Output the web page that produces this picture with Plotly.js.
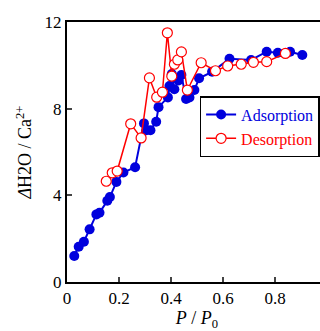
<!DOCTYPE html>
<html><head><meta charset="utf-8">
<script src="https://cdn.plot.ly/plotly-3.0.1.min.js"></script>
<style>html,body{margin:0;padding:0;overflow:hidden;background:#fff;}#chart{width:340px;height:331px;}</style>
</head><body><div id="chart"></div>
<script>
const adsX = [0.028,0.045,0.065,0.087,0.113,0.125,0.155,0.165,0.19,0.217,0.262,0.296,0.305,0.321,0.343,0.352,0.388,0.394,0.403,0.413,0.429,0.44,0.458,0.471,0.49,0.508,0.558,0.625,0.708,0.768,0.811,0.858,0.905];
const adsY = [1.2,1.63,1.86,2.43,3.12,3.2,3.75,3.92,4.62,5.05,5.3,7.32,7.0,7.0,7.4,8.07,8.52,9.05,9.6,8.9,9.3,9.55,8.45,8.52,8.86,9.4,9.7,10.3,10.25,10.63,10.58,10.63,10.48];
const desX = [0.151,0.174,0.193,0.245,0.285,0.317,0.345,0.367,0.386,0.403,0.413,0.426,0.44,0.463,0.516,0.571,0.618,0.67,0.717,0.768,0.84];
const desY = [4.65,5.04,5.12,7.3,6.65,9.42,8.53,8.76,11.5,9.5,10.05,10.25,10.62,8.86,10.12,9.75,9.97,10.05,10.14,10.17,10.55];
const xTicks = [0,0.2,0.4,0.6,0.8];
const xTickText = ['0','0.2','0.4','0.6','0.8'];
const yTicks = [0,4,8,12];

const font = 'Liberation Serif, Times New Roman, serif';
const traces = [
  {x: adsX, y: adsY, name: '<span style="color:#0000dd">Adsorption</span>', mode: 'lines+markers', type: 'scatter',
   line: {color: '#0000dd', width: 2}, marker: {color: '#0000dd', size: 10, symbol: 'circle'}},
  {x: desX, y: desY, name: '<span style="color:#ff0000">Desorption</span>', mode: 'lines+markers', type: 'scatter',
   line: {color: '#ff0000', width: 1.5}, marker: {color: '#ffffff', size: 10, symbol: 'circle', line: {color: '#ff0000', width: 1.2}}}
];
const layout = {
  width: 340, height: 331,
  margin: {l: 67, r: 13, t: 22, b: 49},
  paper_bgcolor: '#fff', plot_bgcolor: '#fff',
  font: {family: font, size: 17, color: '#000'},
  showlegend: true,
  legend: {x: 0.51, y: 0.715, xanchor: 'left', yanchor: 'top', bordercolor: '#000', borderwidth: 1.5,
           bgcolor: '#fff', font: {family: font, size: 16}, itemwidth: 30, tracegroupgap: 2},
  xaxis: {range: [0, 1.0], tickvals: xTicks, ticktext: xTickText, ticks: 'inside', ticklen: 5, tickwidth: 2,
          showline: true, linewidth: 2, linecolor: '#000', mirror: true, showgrid: false, zeroline: false,
          tickfont: {family: font, size: 17},
          title: {text: '<i>P</i> / <i>P</i><sub>0</sub>', font: {family: font, size: 18}, standoff: 6}},
  yaxis: {range: [0, 12], tickvals: yTicks, ticks: 'inside', ticklen: 5, tickwidth: 2,
          showline: true, linewidth: 2, linecolor: '#000', mirror: true, showgrid: false, zeroline: false,
          tickfont: {family: font, size: 17},
          title: {text: '<i>Δ</i>H2O / Ca<sup>2+</sup>', font: {family: font, size: 18}, standoff: 8}}
};
Plotly.newPlot('chart', traces, layout, {displayModeBar: false, staticPlot: true});
</script></body></html>
